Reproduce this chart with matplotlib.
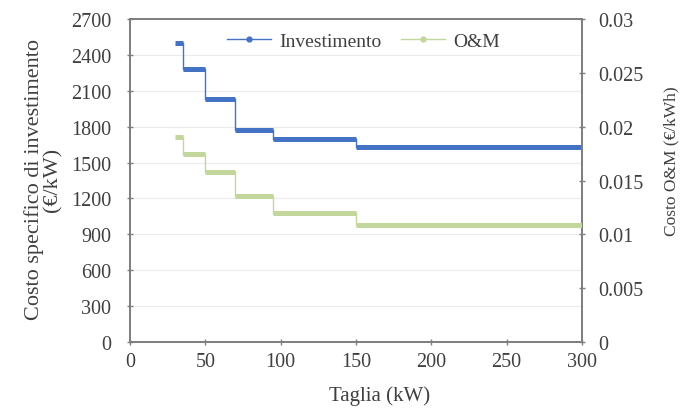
import numpy as np
import matplotlib.pyplot as plt
from matplotlib.lines import Line2D

plt.rcParams['font.family'] = ['Liberation Serif', 'DejaVu Serif']

# Fasce di taglia (kW)
taglia_da = [30, 35, 50, 70, 95, 150]
taglia_a = [35, 50, 70, 95, 150, 300]

# Costo specifico di investimento (EUR/kW)
investimento = [2500, 2280, 2030, 1770, 1700, 1630]
# Costo O&M (EUR/kWh)
om = [0.0190, 0.0175, 0.0158, 0.0136, 0.0120, 0.0109]

blu = '#4472c4'
verde = '#c3d69b'
grigio = '#7f7f7f'
testo = '#404040'

fig = plt.figure(figsize=(6.82, 4.10), dpi=100)
ax1 = fig.add_axes([0.1906, 0.1634, 0.6628, 0.7876])
ax2 = ax1.twinx()


def disegna_gradini(ax, valori, colore):
    for k in range(len(valori)):
        ax.plot([taglia_da[k], taglia_a[k]], [valori[k], valori[k]],
                color=colore, lw=3.6, solid_capstyle='butt', zorder=3)
        if k > 0:
            ax.plot([taglia_da[k], taglia_da[k]], [valori[k - 1], valori[k]],
                    color=colore, lw=1, zorder=3)


disegna_gradini(ax1, investimento, blu)
disegna_gradini(ax2, om, verde)

ax1.set_xlim(0, 300)
ax1.set_ylim(0, 2700)
ax2.set_ylim(0, 0.03)
ax1.set_xticks(np.arange(0, 301, 50))
ax1.set_yticks(np.arange(0, 2701, 300))
ax2.set_yticks([0, 0.005, 0.01, 0.015, 0.02, 0.025, 0.03])
ax2.set_yticklabels(['0', '0.005', '0.01', '0.015', '0.02', '0.025', '0.03'])

ax1.grid(axis='y', color='#ececec', lw=0.8)
ax1.set_axisbelow(True)

for ax in (ax1, ax2):
    for s in ax.spines.values():
        s.set_color(grigio)
        s.set_linewidth(1.3)
    ax.tick_params(direction='inout', length=5, width=1, color=grigio,
                   labelsize=14.5, labelcolor=testo)
ax1.tick_params(axis='y', pad=11)
ax1.tick_params(axis='x', pad=5)
ax2.tick_params(axis='y', pad=9)

ax1.set_xlabel('Taglia (kW)', fontsize=15, color=testo)
ax1.xaxis.set_label_coords(0.553, -0.134)
ax1.set_ylabel('Costo specifico di investimento\n(€/kW)', fontsize=16,
               color=testo, linespacing=0.95)
ax1.yaxis.set_label_coords(-0.150, 0.505)
ax2.set_ylabel('Costo O&M (€/kWh)', fontsize=12.5, color=testo, rotation=90)
ax2.yaxis.set_label_coords(1.181, 0.563)

handles = [
    Line2D([], [], color=blu, lw=1, marker='o', markersize=3.5),
    Line2D([], [], color=verde, lw=1, marker='o', markersize=3.5),
]
ax1.legend(handles, ['Investimento', 'O&M'], loc='center',
           bbox_to_anchor=(0.516, 0.932), ncol=2, frameon=False,
           fontsize=14, handlelength=2.3, handletextpad=0.4,
           columnspacing=1.0, labelcolor=testo, borderpad=0.2)

fig.savefig('out.png', dpi=100)
